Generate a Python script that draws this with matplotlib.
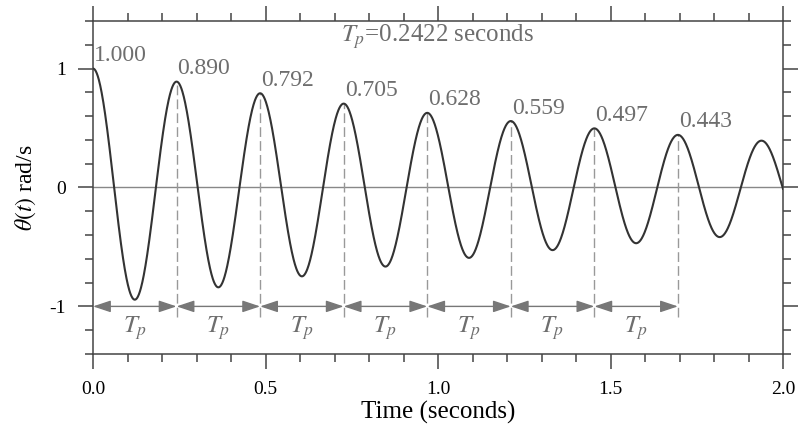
import numpy as np
import matplotlib
matplotlib.use("Agg")
import matplotlib.pyplot as plt

# ---- data ----
Tp = 0.2422                       # peak time (seconds)
peak_values = [1.000, 0.890, 0.792, 0.705, 0.628, 0.559, 0.497, 0.443]
peak_labels = ["1.000", "0.890", "0.792", "0.705", "0.628", "0.559", "0.497", "0.443"]
x_ticks = [0.0, 0.5, 1.0, 1.5, 2.0]
x_ticklabels = ["0.0", "0.5", "1.0", "1.5", "2.0"]
y_ticks = [-1, 0, 1]
y_ticklabels = ["-1", "0", "1"]

# damped response implied by Tp and the decay ratio of successive peaks
sigma = -np.log(peak_values[1] / peak_values[0]) / Tp
wd = 2 * np.pi / Tp
t = np.linspace(0, 2.0, 2000)
theta = np.exp(-sigma * t) * (np.cos(wd * t) + (sigma / wd) * np.sin(wd * t))

plt.rcParams['font.family'] = ['Liberation Serif', 'DejaVu Serif']
plt.rcParams['mathtext.fontset'] = 'stix'

fig = plt.figure(figsize=(8, 4.37), dpi=100)
ax = fig.add_axes([0.11625, 0.19, 0.8625, 0.762])

spine_col = '#444444'
ann_col = '#6e6e6e'

ax.axhline(0, color='#888888', lw=1.0, zorder=1)
ax.plot(t, theta, color='#333333', lw=1.5, zorder=3)

peak_times = [i * Tp for i in range(len(peak_values))]
y_arrow = -1.0
y_dash_bottom = -1.09

for i, (tp, pv, lab) in enumerate(zip(peak_times, peak_values, peak_labels)):
    if i > 0:
        ax.plot([tp, tp], [y_dash_bottom, pv], color='#999999', lw=1.0,
                ls=(0, (7, 3)), zorder=2)
    ax.text(tp + 0.003, pv + 0.02, lab, color=ann_col, fontsize=17,
            ha='left', va='bottom')

for i in range(len(peak_times) - 1):
    a, b = peak_times[i], peak_times[i + 1]
    ax.annotate('', xy=(b, y_arrow), xytext=(a, y_arrow),
                arrowprops=dict(arrowstyle='<|-|>,head_length=0.6,head_width=0.2',
                                mutation_scale=18, color='#777777', lw=1.0,
                                shrinkA=0, shrinkB=0), zorder=2)
    ax.text((a + b) / 2, -1.18, r'$T_p$', color=ann_col, fontsize=18,
            ha='center', va='center')

ax.text(1.0, 1.265, r'$T_p$=0.2422 seconds', color=ann_col, fontsize=18,
        ha='center', va='center')

ax.set_xlim(0, 2.0)
ax.set_ylim(-1.4, 1.4)
ax.set_xticks(x_ticks)
ax.set_xticklabels(x_ticklabels)
ax.set_yticks(y_ticks)
ax.set_yticklabels(y_ticklabels)
ax.set_xticks(np.arange(0, 2.0001, 0.1), minor=True)
ax.set_yticks(np.arange(-1.4, 1.4001, 0.2), minor=True)

ax.tick_params(which='both', direction='out', top=True, right=True,
               color=spine_col, width=1.1, labelsize=14)
ax.tick_params(which='major', length=10.5)
ax.tick_params(which='minor', length=5.5)
ax.tick_params(axis='x', which='major', pad=9)
ax.tick_params(axis='y', which='major', pad=9)
for s in ax.spines.values():
    s.set_color(spine_col)
    s.set_linewidth(1.1)

ax.set_xlabel('Time (seconds)', fontsize=18, labelpad=2)
ax.set_ylabel(r'$\theta(t)$ rad/s', fontsize=17, labelpad=8)

fig.savefig('out.png', dpi=100)
